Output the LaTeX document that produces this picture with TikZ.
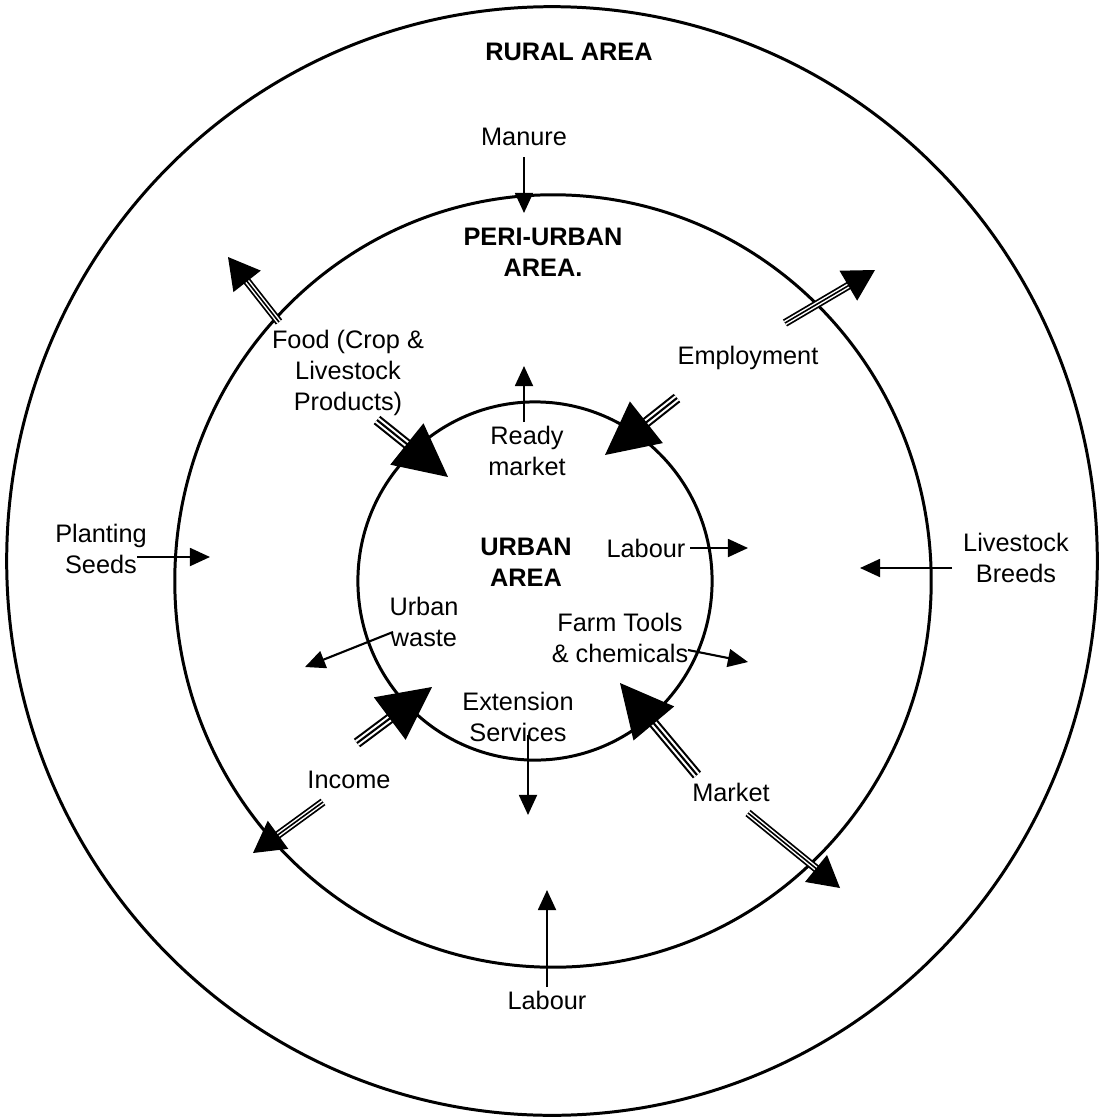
\documentclass[tikz,border=0pt]{standalone}
\usepackage{fontspec}
\setmainfont{Liberation Sans}
\usetikzlibrary{arrows.meta,calc}

\begin{document}
\begin{tikzpicture}[x=0.01cm, y=-0.01cm,
  lbl/.style={font=\fontsize{7.2}{8.7}\selectfont, align=center, inner sep=0pt},
  zone/.style={font=\fontsize{7.2}{8.7}\selectfont\bfseries, align=center, inner sep=0pt},
  ring/.style={line width=0.85pt},
  link/.style={line width=0.6pt, -{Triangle[length=5.7pt,width=5.1pt]}},
  flow/.style={line width=3pt, postaction={draw=white, line width=1.8pt}, postaction={draw=black, line width=0.6pt}},
  flowsm/.style={line width=2.3pt, postaction={draw=white, line width=1.3pt}, postaction={draw=black, line width=0.45pt}},
  bighead/.style={line width=0.4pt, -{Triangle[length=15pt,width=15pt]}},
  smallhead/.style={line width=0.4pt, -{Triangle[length=8.8pt,width=9.8pt]}}]
\useasboundingbox (0,0) rectangle (1106,1118);

% the three areas
\draw[ring] (552,561) ellipse [x radius=5.45cm, y radius=5.54cm];
\draw[ring] (553,581) ellipse [x radius=3.78cm, y radius=3.86cm];
\draw[ring] (535,581) ellipse [x radius=1.77cm, y radius=1.79cm];

% labels
\node[zone] (rural) at (569,52) {RURAL AREA};
\node[zone] (peri) at (543,252) {PERI-URBAN\\AREA.};
\node[zone] (urban) at (526,562) {URBAN\\AREA};
\node[lbl] (manure) at (524,137) {Manure};
\node[lbl] (food) at (348,373) {Food (Crop \&\\Livestock\\Products)};
\node[lbl] (employ) at (748,358) {Employment};
\node[lbl] (ready) at (527,451) {Ready\\market};
\node[lbl] (labin) at (646,548) {Labour};
\node[lbl] (waste) at (424,622) {Urban\\waste};
\node[lbl] (tools) at (620,638) {Farm Tools\\\& chemicals};
\node[lbl] (ext) at (518,717) {Extension\\Services};
\node[lbl] (income) at (349,780) {Income};
\node[lbl] (market) at (731,792) {Market};
\node[lbl] (plant) at (101,549) {Planting\\Seeds};
\node[lbl] (breeds) at (1016,558) {Livestock\\Breeds};
\node[lbl] (labout) at (547,1000) {Labour};

% free ends of the thin arrows
\coordinate (manureA) at (524,157);  \coordinate (manureB) at (524,213);
\coordinate (readyA) at (524,422);   \coordinate (readyB) at (524,366);
\coordinate (labinA) at (690,548);   \coordinate (labinB) at (748,548);
\coordinate (wasteA) at (393,632);   \coordinate (wasteB) at (305,667);
\coordinate (toolsA) at (688,650);   \coordinate (toolsB) at (748,662);
\coordinate (extA) at (528,735);     \coordinate (extB) at (528,815);
\coordinate (plantA) at (137,557);   \coordinate (plantB) at (210,557);
\coordinate (breedsA) at (952,568);  \coordinate (breedsB) at (860,568);
\coordinate (laboutA) at (547,987);  \coordinate (laboutB) at (547,890);

\foreach \a in {manure,ready,labin,waste,tools,ext,plant,breeds,labout}
  \draw[link] (\a A) -- (\a B);

% free ends of the broad arrows (start, tip)
\coordinate (foodoutA) at (279,322);   \coordinate (foodoutB) at (228,257);
\coordinate (foodinA) at (377,420);    \coordinate (foodinB) at (448,477);
\coordinate (empoutA) at (785,323);    \coordinate (empoutB) at (875,270);
\coordinate (empinA) at (677,398);     \coordinate (empinB) at (605,455);
\coordinate (incinA) at (357,743);     \coordinate (incinB) at (432,687);
\coordinate (incoutA) at (323,802);    \coordinate (incoutB) at (253,853);
\coordinate (mktinA) at (697,775);     \coordinate (mktinB) at (620,683);
\coordinate (mktoutA) at (748,813);    \coordinate (mktoutB) at (840,888);

% towards the town
\foreach \a in {foodin,empin,incin,mktin} {
  \draw[flow] (\a A) -- ($(\a B)!13pt!(\a A)$);
  \draw[bighead] ($(\a B)!15pt!(\a A)$) -- (\a B);
}
% out to the rural area
\foreach \a in {foodout,empout,incout,mktout} {
  \draw[flowsm] (\a A) -- ($(\a B)!7.5pt!(\a A)$);
  \draw[smallhead] ($(\a B)!8.8pt!(\a A)$) -- (\a B);
}
\end{tikzpicture}
\end{document}
